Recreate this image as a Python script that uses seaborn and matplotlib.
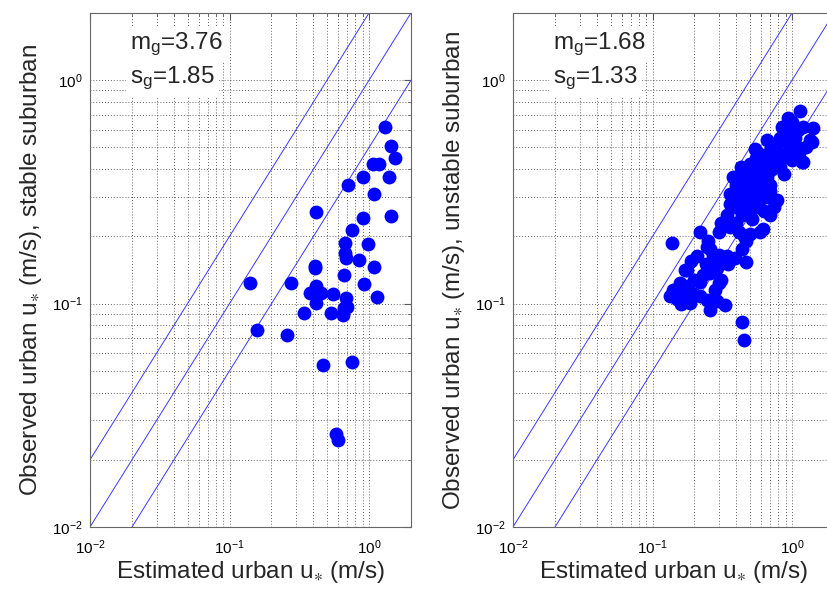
import matplotlib
matplotlib.use("Agg")
import matplotlib.pyplot as plt
import seaborn as sns

# stable suburban (left panel): estimated vs observed urban u*
stable_est = [1.31, 1.44, 1.54, 1.06, 1.17, 0.90, 1.40, 0.71, 1.09, 0.42,
              1.44, 0.90, 0.75, 0.67, 0.99, 0.67, 0.68, 0.85, 0.41, 0.41,
              1.08, 0.66, 0.14, 0.275, 0.92, 0.42, 0.38, 0.45, 0.42, 0.55,
              0.68, 0.66, 0.70, 0.65, 0.53, 0.34, 1.14, 0.158, 0.257, 0.47,
              0.76, 0.58, 0.60]
stable_obs = [0.62, 0.51, 0.45, 0.42, 0.42, 0.37, 0.37, 0.34, 0.31, 0.257,
              0.248, 0.242, 0.213, 0.187, 0.184, 0.169, 0.160, 0.157, 0.148, 0.145,
              0.146, 0.134, 0.124, 0.124, 0.123, 0.120, 0.112, 0.112, 0.101, 0.110,
              0.106, 0.096, 0.097, 0.089, 0.091, 0.091, 0.107, 0.076, 0.072, 0.053,
              0.0546, 0.026, 0.0246]

# unstable suburban (right panel)
unstable_est = [1.14, 0.94, 1.20, 1.42, 1.38, 0.97, 0.82, 0.74, 1.08, 1.17,
                0.92, 0.62, 0.82, 0.50, 0.43, 0.38, 0.59, 0.70, 0.43, 0.36,
                0.53, 0.74, 0.40, 0.56, 0.70, 0.36, 0.47, 0.70, 0.59, 0.31,
                0.40, 0.22, 0.138, 0.47, 0.26, 0.21, 0.34, 0.47, 0.177,
                0.26, 0.31, 0.20, 0.246, 0.172, 0.26, 0.158, 0.134, 0.167, 0.187,
                0.22, 0.26, 0.29, 0.33, 0.44, 0.45, 0.74, 0.62, 0.78, 0.54,
                0.66, 1.20, 1.34, 0.246, 0.30, 0.48, 0.65, 0.55, 0.85, 0.62,
                0.45, 0.52, 0.34, 0.30, 0.25, 0.42, 0.35, 0.28, 0.22, 0.19,
                0.88, 1.00, 1.05, 0.77, 0.56, 0.68, 0.58, 0.16, 0.14, 0.41,
                0.27, 0.50, 0.44, 0.39, 0.30, 0.29, 0.24, 0.23, 0.18, 0.15,
                0.20, 0.36, 0.40, 0.44, 0.48, 0.52, 0.57, 0.63, 0.66, 0.72,
                0.60, 0.72, 0.78, 0.90, 0.95, 1.10, 0.85, 1.00, 0.55, 0.50,
                0.63, 0.66, 0.45, 0.29, 0.41, 0.47, 0.57, 0.70, 1.25, 1.12]
unstable_obs = [0.73, 0.68, 0.62, 0.61, 0.53, 0.59, 0.55, 0.50, 0.50, 0.43,
                0.47, 0.43, 0.41, 0.42, 0.41, 0.37, 0.37, 0.34, 0.33, 0.31,
                0.31, 0.29, 0.34, 0.31, 0.32, 0.28, 0.26, 0.25, 0.21, 0.23,
                0.23, 0.21, 0.187, 0.19, 0.175, 0.163, 0.163, 0.153, 0.142,
                0.142, 0.128, 0.128, 0.18, 0.142, 0.137, 0.124, 0.108, 0.112, 0.101,
                0.108, 0.094, 0.103, 0.099, 0.083, 0.069, 0.27, 0.215, 0.29, 0.49,
                0.54, 0.43, 0.54, 0.104, 0.124, 0.36, 0.40, 0.45, 0.45, 0.30,
                0.29, 0.24, 0.25, 0.21, 0.19, 0.21, 0.15, 0.115, 0.125, 0.155,
                0.38, 0.44, 0.55, 0.47, 0.38, 0.45, 0.27, 0.10, 0.115, 0.30,
                0.165, 0.205, 0.175, 0.16, 0.165, 0.145, 0.15, 0.135, 0.12, 0.105,
                0.11, 0.22, 0.27, 0.25, 0.31, 0.34, 0.33, 0.35, 0.37, 0.40,
                0.42, 0.44, 0.52, 0.55, 0.52, 0.60, 0.62, 0.65, 0.27, 0.28,
                0.26, 0.30, 0.20, 0.16, 0.36, 0.40, 0.47, 0.48, 0.50, 0.47]

panel_ylabels = ["Observed urban u$_{\\ast}$ (m/s), stable suburban",
                 "Observed urban u$_{\\ast}$ (m/s), unstable suburban"]
panel_mg = ["3.76", "1.68"]
panel_sg = ["1.85", "1.33"]

# 1:2, 1:1, 2:1 reference lines
ref_factors = [2.0, 1.0, 0.5]
ref_x = [0.01, 2.0]

sns.set_style("white")
plt.rcParams["font.family"] = ["Liberation Sans", "DejaVu Sans"]
plt.rcParams["mathtext.fontset"] = "custom"
plt.rcParams["mathtext.rm"] = "Liberation Sans"
plt.rcParams["mathtext.it"] = "Liberation Sans"
plt.rcParams["mathtext.default"] = "regular"

fig = plt.figure(figsize=(8.28, 5.92), dpi=100)
ax1 = fig.add_axes([90 / 828, 65 / 592, 321 / 828, 514 / 592])
ax2 = fig.add_axes([513 / 828, 65 / 592, 321 / 828, 514 / 592])

panels = [(ax1, stable_est, stable_obs), (ax2, unstable_est, unstable_obs)]
for i, (ax, est, obs) in enumerate(panels):
    ax.set_xscale("log")
    ax.set_yscale("log")
    for f in ref_factors:
        ax.plot(ref_x, [f * v for v in ref_x], color="#3a3aff", lw=0.7, zorder=2)
    sns.scatterplot(x=est, y=obs, ax=ax, color="#0000ff", s=100,
                    linewidth=0, zorder=3)
    ax.set_xlim(0.01, 2)
    ax.set_ylim(0.01, 2)
    ax.set_xticks([0.01, 0.1, 1])
    ax.set_yticks([0.01, 0.1, 1])
    ax.set_axisbelow(True)
    ax.grid(True, which="both", linestyle=(0, (1, 2.5)), color="0.2", linewidth=0.6)
    ax.tick_params(which="both", direction="in", top=True, right=True,
                   colors="0.35", labelcolor="black", labelsize=11)
    ax.tick_params(which="major", length=5)
    ax.tick_params(which="minor", length=2.5)
    ax.tick_params(axis="x", which="major", pad=8)
    ax.tick_params(axis="y", which="major", pad=5)
    for sp in ax.spines.values():
        sp.set_color("0.4")
        sp.set_linewidth(0.8)
    ax.set_xlabel("Estimated urban u$_{\\ast}$ (m/s)", fontsize=17.5, labelpad=2)
    ax.set_ylabel(panel_ylabels[i], fontsize=17.5, labelpad=6)
    box = dict(facecolor="white", edgecolor="none", pad=3)
    ax.text(0.125, 0.930, "m$_g$=" + panel_mg[i], transform=ax.transAxes,
            fontsize=17.5, ha="left", va="baseline", bbox=box, zorder=4)
    ax.text(0.125, 0.864, "s$_g$=" + panel_sg[i], transform=ax.transAxes,
            fontsize=17.5, ha="left", va="baseline", bbox=box, zorder=4)

fig.savefig("out.png", dpi=100)
